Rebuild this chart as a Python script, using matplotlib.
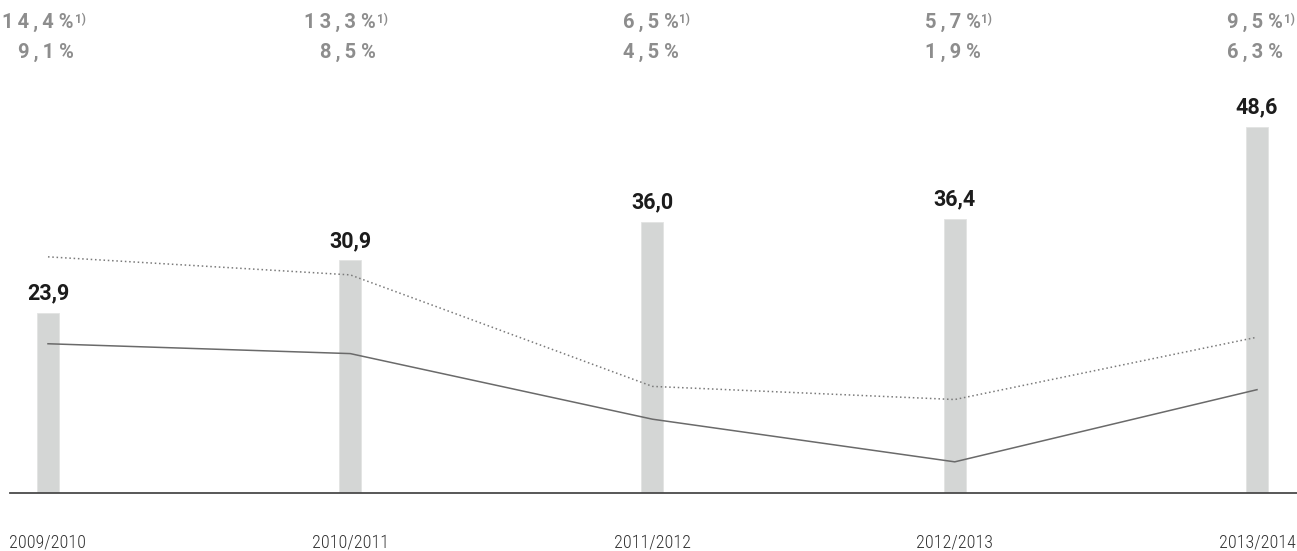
import matplotlib
matplotlib.use('Agg')
import matplotlib.pyplot as plt
import numpy as np

years = ['2009/2010', '2010/2011', '2011/2012', '2012/2013', '2013/2014']
bar_values = [23.9, 30.9, 36.0, 36.4, 48.6]
dotted_pct = [14.4, 13.3, 6.5, 5.7, 9.5]
solid_pct = [9.1, 8.5, 4.5, 1.9, 6.3]

THIN = '\u2009'


def fmt(v, spaced=False):
    s = f'{v:.1f}'.replace('.', ',')
    if spaced:
        s = THIN.join(s)
    return s


W, H = 1297, 551
fig = plt.figure(figsize=(W / 100, H / 100), dpi=100)
# axes: left edge of the axis line at 10 px, baseline at 493 px from top
ax = fig.add_axes([10 / W, (H - 493) / H, (W - 10) / W, 493 / H])
x = np.arange(len(years))
px_per_unit = 302.25
ax.set_xlim((10 - 48) / px_per_unit, (W - 48) / px_per_unit)
ax.set_ylim(0, 493 / 7.53)

ax.bar(x, bar_values, width=22 / px_per_unit, color='#d4d6d5', edgecolor='#e2e4e3',
       linewidth=0.6, zorder=1)
for xi, v in zip(x, bar_values):
    ax.annotate(fmt(v), (xi, v), xytext=(0, 6), textcoords='offset points',
                ha='center', va='bottom', fontsize=15.5, fontweight='bold',
                color='#1c1c1c', family=['Roboto', 'DejaVu Sans'])

ax2 = ax.twinx()
ax2.set_ylim(0, 493 / 16.4)
ax2.plot(x, dotted_pct, color='#7a7a7a', lw=1.1, ls=(0, (1, 1.8)), zorder=3)
ax2.plot(x, solid_pct, color='#6a6a6a', lw=1.1, zorder=3)

# percentages along the top
trans = ax.get_xaxis_transform()
grey = '#8d8d8d'
for xi, a, b in zip(x, dotted_pct, solid_pct):
    low = ax.text(xi - 2 / px_per_unit, (493 - 52) / 493, fmt(b, True) + ' %',
                  transform=trans, ha='center', va='center', fontsize=14.5,
                  fontweight='bold', color=grey, family=['Roboto', 'DejaVu Sans'])
    top = ax.annotate(fmt(a, True) + ' %', xy=(1, 0.5), xycoords=low, xytext=(0, 30),
                      textcoords='offset pixels', ha='right', va='center',
                      fontsize=14.5, fontweight='bold', color=grey,
                      family=['Roboto', 'DejaVu Sans'])
    ax.annotate('1)', xy=(1, 1), xycoords=top, xytext=(0.5, 0),
                textcoords='offset points', ha='left', va='top', fontsize=8.5,
                fontweight='bold', color=grey, family=['Roboto', 'DejaVu Sans'])

ax.set_xticks(x)
ax.set_xticklabels(years, fontsize=13, color='#333333', fontweight='light',
                   family=['Roboto Condensed', 'Roboto'])
ax.tick_params(axis='x', length=0, pad=29)
ax.set_yticks([])
ax2.set_yticks([])
for a in (ax, ax2):
    for side in ('top', 'left', 'right', 'bottom'):
        a.spines[side].set_visible(False)
ax.spines['bottom'].set_visible(True)
ax.spines['bottom'].set_color('#4a4a4a')
ax.spines['bottom'].set_linewidth(1.3)

fig.savefig('out.png', dpi=100)
